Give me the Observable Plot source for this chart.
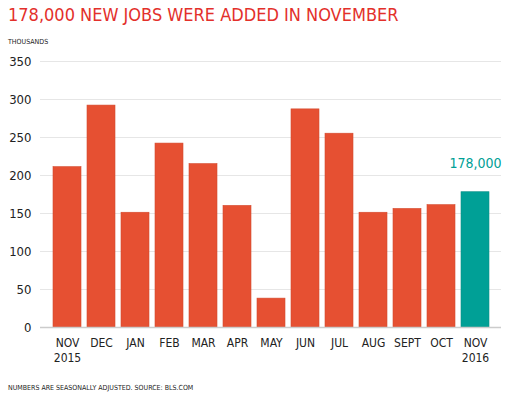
<!DOCTYPE html>
<html><head><meta charset="utf-8">
<script src="https://cdn.jsdelivr.net/npm/d3@7"></script>
<script src="https://cdn.jsdelivr.net/npm/@observablehq/plot@0.6"></script>
<style>
body{margin:0;background:#fff;width:525px;height:399px;position:relative;overflow:hidden;font-family:"DejaVu Sans Condensed",Roboto,sans-serif;}
#title{position:absolute;left:8px;top:4px;font-size:18px;color:#e3302b;white-space:nowrap;}
#sub{position:absolute;left:8px;top:38px;font-size:7px;color:#222;}
#chart{position:absolute;left:0;top:50px;}
#cap{position:absolute;left:8px;top:384px;font-size:7px;color:#222;}
</style></head>
<body>
<div id="title">178,000 NEW JOBS WERE ADDED IN NOVEMBER</div>
<div id="sub">THOUSANDS</div>
<div id="chart"></div>
<div id="cap">NUMBERS ARE SEASONALLY ADJUSTED. SOURCE: BLS.COM</div>
<script>
const months = ["NOV\n2015","DEC","JAN","FEB","MAR","APR","MAY","JUN","JUL","AUG","SEPT","OCT","NOV\n2016"];
const jobs = [211, 292, 151, 242, 215, 160, 38, 287, 255, 151, 156, 161, 178];
const highlight = [false,false,false,false,false,false,false,false,false,false,false,false,true];
const yTicks = [0,50,100,150,200,250,300,350];
const data = months.map((m,i)=>({month:m, value:jobs[i], hl:highlight[i]}));
const last = data[data.length-1];
const chart = Plot.plot({
  width:525, height:330,
  marginLeft:40, marginRight:24, marginTop:11, marginBottom:53,
  style:{fontFamily:'"DejaVu Sans Condensed",Roboto,sans-serif', color:"#222", background:"transparent"},
  x:{domain:months, padding:0.18, label:null},
  y:{domain:[0,350], ticks:yTicks, label:null},
  marks:[
    Plot.gridY(yTicks.filter(d=>d>0), {stroke:"#e6e6e6", strokeOpacity:1, strokeWidth:1}),
    Plot.barY(data, {x:"month", y:"value", fill:d=>d.hl?"#00a096":"#e65032", stroke:d=>d.hl?"#0a8f86":"#d44a2e", strokeWidth:0.6}),
    Plot.ruleY([0], {stroke:"#cccccc", strokeWidth:1.5}),
    Plot.axisY({ticks:yTicks, tickSize:0, tickPadding:9, fontSize:13, label:null}),
    Plot.axisX({tickSize:0, tickPadding:9, fontSize:12, lineHeight:1.25, textAnchor:"middle", label:null}),
    Plot.text([last], {x:"month", y:"value", text:()=>"178,000", dy:-29, fill:"#00a096", fontSize:14})
  ]
});
document.getElementById("chart").appendChild(chart);
</script>
</body></html>
